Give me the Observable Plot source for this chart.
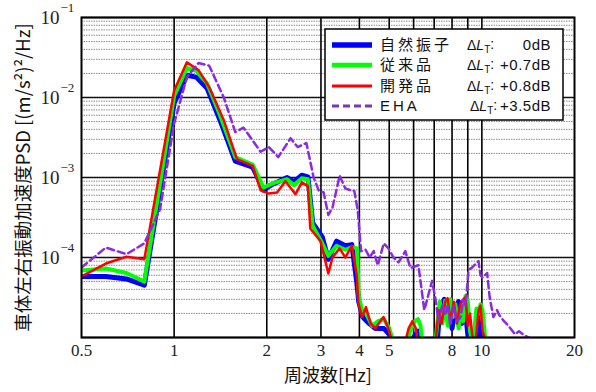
<!DOCTYPE html>
<html>
<head>
<meta charset="utf-8">
<script src="https://cdn.jsdelivr.net/npm/d3@7"></script>
<script src="https://cdn.jsdelivr.net/npm/@observablehq/plot@0.6"></script>
<style>
  html, body { margin: 0; padding: 0; background: #fff; }
  #chart { width: 596px; height: 392px; }
</style>
</head>
<body>
<div id="chart"></div>
<script>
// ---- data ----
const seriesNames = ["自然振子", "従来品", "開発品", "EHA"];
const deltaLT = ["0dB", "+0.7dB", "+0.8dB", "+3.5dB"];

const blueF = [0.5, 0.6, 0.7, 0.8, 1.0, 1.1, 1.18, 1.28, 1.41, 1.58, 1.8, 1.95, 2.1, 2.33, 2.45, 2.6, 2.72, 2.82, 3.03, 3.17, 3.37, 3.6, 3.78, 3.92,
  3.98, 4.1, 4.3, 4.5, 4.8, 5.0, 5.2, 5.8, 6.0, 6.2, 6.4, 7.1, 7.25, 7.4, 7.55, 7.7, 7.85, 8.0, 8.2, 8.4, 8.6, 8.8, 9.0, 9.2, 9.5, 9.7, 9.9, 10.1];
const blueV = [5.8e-5, 5.8e-5, 5.4e-5, 4.5e-5, 8.5e-3, 1.9e-2, 1.8e-2, 1.3e-2, 5.2e-3, 1.6e-3, 1.35e-3, 7.0e-4, 8.3e-4, 1.0e-3, 8.8e-4, 1.07e-3, 1.02e-3, 2.7e-4, 1.8e-4, 9.5e-5, 1.6e-4, 1.4e-4, 1.45e-4, 5e-5,
  2.8e-5, 1.8e-5, 1.5e-5, 1.3e-5, 1.3e-5, 1.1e-5, 7e-6, 6e-6, 1.0e-5, 1.2e-5, 6e-6, 6e-6, 1.6e-5, 2.4e-5, 3.0e-5, 2.0e-5, 2.7e-5, 1.3e-5, 2.4e-5, 2.8e-5, 1.5e-5, 2.6e-5, 1.1e-5, 7e-6, 1.0e-5, 1.8e-5, 1.0e-5, 6e-6];

const greenF = [0.5, 0.6, 0.7, 0.8, 1.0, 1.1, 1.18, 1.28, 1.41, 1.58, 1.8, 1.95, 2.1, 2.33, 2.45, 2.6, 2.72, 2.82, 3.03, 3.17, 3.37, 3.6, 3.78, 3.93,
  3.98, 4.08, 4.2, 4.4, 4.6, 4.8, 5.0, 5.2, 5.6, 5.85, 6.05, 6.2, 6.32, 6.45, 7.0, 7.15, 7.3, 7.45, 7.6, 7.75, 7.9, 8.05, 8.2, 8.4, 8.55, 8.7, 8.85, 9.0, 9.15, 9.35, 9.6, 9.75, 9.9, 10.05, 10.3, 10.5];
const greenV = [6.9e-5, 7.3e-5, 6.4e-5, 5.0e-5, 1.05e-2, 2.35e-2, 2.15e-2, 1.5e-2, 6.0e-3, 1.8e-3, 1.45e-3, 7.5e-4, 8.5e-4, 9.5e-4, 8.0e-4, 9.8e-4, 9.5e-4, 2.5e-4, 1.5e-4, 1.05e-4, 1.4e-4, 1.25e-4, 1.35e-4, 1.3e-4,
  3.3e-5, 2.2e-5, 2.0e-5, 1.4e-5, 1.6e-5, 1.7e-5, 1.3e-5, 8e-6, 6e-6, 1.2e-5, 1.6e-5, 1.7e-5, 1.4e-5, 6e-6, 6e-6, 1.4e-5, 2.8e-5, 1.5e-5, 2.9e-5, 1.4e-5, 3.0e-5, 1.8e-5, 2.6e-5, 1.3e-5, 2.4e-5, 1.6e-5, 3.3e-5, 2.8e-5, 1.2e-5, 8e-6, 2.3e-5, 2.0e-5, 2.6e-5, 2.2e-5, 8e-6, 5e-6];

const redF = [0.5, 0.6, 0.7, 0.8, 1.0, 1.1, 1.2, 1.3, 1.45, 1.6, 1.8, 1.91, 2.03, 2.16, 2.3, 2.48, 2.6, 2.72, 2.77, 2.99, 3.17, 3.27, 3.45, 3.6, 3.78, 3.92,
  3.97, 4.08, 4.2, 4.35, 4.5, 4.79, 4.97, 5.1, 5.3, 5.6, 5.78, 5.95, 6.1, 6.25, 6.6, 7.0, 7.1, 7.23, 7.4, 7.6, 7.74, 7.9, 8.1, 8.3, 8.5, 8.7, 8.85, 9.0, 9.15, 9.3, 9.5, 9.75, 9.9, 10.05, 10.3, 10.5];
const redV = [5.8e-5, 8.4e-5, 1.02e-4, 9.5e-5, 1.22e-2, 2.75e-2, 2.2e-2, 1.35e-2, 5.2e-3, 1.7e-3, 1.4e-3, 6.9e-4, 6.3e-4, 6.5e-4, 9.0e-4, 6.2e-4, 8.7e-4, 7.8e-4, 2.3e-4, 1.6e-4, 6.3e-5, 1.0e-4, 1.3e-4, 1.0e-4, 1.4e-4, 6e-5,
  2.7e-5, 1.8e-5, 2.4e-5, 1.5e-5, 1.3e-5, 1.8e-5, 1.3e-5, 9e-6, 6e-6, 8e-6, 1.3e-5, 1.6e-5, 1.3e-5, 7e-6, 5e-6, 7e-6, 1.0e-5, 2.2e-5, 1.5e-5, 2.8e-5, 3.1e-5, 1.6e-5, 2.8e-5, 1.5e-5, 2.6e-5, 3.0e-5, 3.2e-5, 1.4e-5, 2.0e-5, 1.1e-5, 7e-6, 2.2e-5, 2.5e-5, 1.2e-5, 9e-6, 5e-6];

const purpleF = [0.5, 0.6, 0.7, 0.8, 0.9, 1.0, 1.1, 1.2, 1.3, 1.45, 1.58, 1.68, 1.91, 2.03, 2.18, 2.39, 2.52, 2.69, 2.84, 2.95, 3.06, 3.17, 3.27, 3.45, 3.6, 3.75, 3.85, 3.95,
  4.05, 4.19, 4.32, 4.45, 4.59, 4.8, 4.97, 5.16, 5.36, 5.64, 5.86, 6.22, 6.5, 6.89, 7.07, 7.23, 7.45, 7.6, 7.74, 7.9, 8.09, 8.3, 8.53, 8.7, 8.85, 9.05, 9.3, 9.6, 9.75, 9.9, 10.05, 10.4, 10.6, 10.9, 11.2, 11.4, 11.8, 12.2, 12.8, 13.2, 13.8, 14.2];
const purpleV = [7.5e-5, 1.33e-4, 1.1e-4, 1.5e-4, 4.0e-4, 4.7e-3, 1.8e-2, 2.7e-2, 2.5e-2, 1.0e-2, 3.7e-3, 4.2e-3, 2.1e-3, 2.4e-3, 1.8e-3, 3.1e-3, 2.4e-3, 2.7e-3, 1.0e-3, 6.9e-4, 6.5e-4, 3.4e-4, 4.2e-4, 1.05e-3, 7.3e-4, 6.9e-4, 6.8e-4, 3.9e-4,
  1.2e-4, 1.25e-4, 1.0e-4, 1.2e-4, 8e-5, 1.5e-4, 1.3e-4, 1.0e-4, 8.7e-5, 1.2e-4, 7.4e-5, 8e-5, 2.2e-5, 5.1e-5, 3.0e-5, 1.6e-5, 2.6e-5, 1.9e-5, 2.6e-5, 1.4e-5, 2.5e-5, 1.6e-5, 1.8e-5, 2.9e-5, 2.5e-5, 7e-5, 7.5e-5, 8.5e-5, 9e-5, 6e-5, 5.6e-5, 6.4e-5, 3.2e-5, 1.8e-5, 2.2e-5, 1.9e-5, 1.6e-5, 1.4e-5, 1.1e-5, 1.2e-5, 1.05e-5, 1.0e-5];

const xTicks = [0.5, 1, 2, 3, 4, 5, 8, 10, 20];
const xTickLabels = ["0.5", "1", "2", "3", "4", "5", "8", "10", "20"];
const yTicks = [1e-1, 1e-2, 1e-3, 1e-4];
const yTickExp = ["\u22121", "\u22122", "\u22123", "\u22124"];
const xGrid = [1, 2, 3, 4, 5, 6, 7, 8, 9, 10];
const yMajor = [1e-5, 1e-4, 1e-3, 1e-2, 1e-1];
const yMinor = [-5, -4, -3, -2].flatMap(e => [2,3,4,5,6,7,8,9].map(k => k * Math.pow(10, e)));

// ---- build tables ----
const toRows = (F, V) => F.map((f, i) => ({f, v: V[i]}));
const blue = toRows(blueF, blueV);
const green = toRows(greenF, greenV);
const red = toRows(redF, redV);
const purple = toRows(purpleF, purpleV);

const colors = ["#0000ff", "#00ff00", "#ff0000", "#8a2be2"];
const widths = [5, 4, 2.5, 2.5];
const serif = "'Liberation Serif', 'DejaVu Serif', serif";
const cjk = "'Noto Sans CJK JP', 'Noto Sans', sans-serif";
const sans = "'Liberation Sans', 'DejaVu Sans', sans-serif";

const chart = Plot.plot({
  width: 596,
  height: 392,
  marginLeft: 81,
  marginRight: 22,
  marginTop: 17,
  marginBottom: 55,
  style: {background: "#fff", fontFamily: serif, fontSize: "15px", overflow: "visible"},
  x: {type: "log", domain: [0.5, 20], axis: null},
  y: {type: "log", domain: [1e-5, 1e-1], axis: null},
  marks: [
    Plot.ruleY(yMinor, {stroke: "#8c8c8c", strokeWidth: 1, strokeDasharray: "1.5,1"}),
    Plot.ruleY(yMajor, {stroke: "#111", strokeWidth: 1.3}),
    Plot.ruleX(xGrid, {stroke: "#000", strokeWidth: 1.6}),
    Plot.line(blue, {x: "f", y: "v", stroke: colors[0], strokeWidth: widths[0], clip: true}),
    Plot.line(green, {x: "f", y: "v", stroke: colors[1], strokeWidth: widths[1], clip: true}),
    Plot.line(red, {x: "f", y: "v", stroke: colors[2], strokeWidth: widths[2], clip: true}),
    Plot.line(purple, {x: "f", y: "v", stroke: colors[3], strokeWidth: widths[3], strokeDasharray: "7,4", clip: true}),
    Plot.frame({stroke: "#000", strokeWidth: 2}),
    Plot.text(xTicks, {x: d => d, frameAnchor: "bottom", dy: 18, textAnchor: "middle", text: (d, i) => xTickLabels[i],
      fontFamily: serif, fontSize: 17, fill: "#222", style: "letter-spacing:3px"}),
    Plot.text(yTicks, {y: d => d, frameAnchor: "left", dx: -22, textAnchor: "end", text: () => "10",
      fontFamily: serif, fontSize: 19, fill: "#222"}),
    Plot.text(yTicks, {y: d => d, frameAnchor: "left", dx: -21, dy: -10, textAnchor: "start", text: (d, i) => yTickExp[i],
      fontFamily: serif, fontSize: 13, fill: "#222"}),
    Plot.text(["周波数[Hz]"], {frameAnchor: "bottom", dy: 44, textAnchor: "middle", fontFamily: cjk, fontSize: 18, fill: "#111"}),
    Plot.text(["車体左右振動加速度PSD [(m/s²)²/Hz]"], {frameAnchor: "left", dx: -57, rotate: -90, textAnchor: "middle",
      fontFamily: cjk, fontSize: 18.5, fill: "#111"})
  ]
});

// ---- legend (drawn into the same svg) ----
const svg = d3.select(chart);
const lg = svg.append("g").attr("class", "legend").attr("text-anchor", "start");
lg.append("rect").attr("x", 325).attr("y", 29).attr("width", 238).attr("height", 91)
  .attr("fill", "#fff").attr("stroke", "#000").attr("stroke-width", 1.5);
const rowY = [45, 65, 86, 106];
seriesNames.forEach((name, i) => {
  const y = rowY[i];
  const ln = lg.append("line").attr("x1", 332).attr("x2", 372).attr("y1", y).attr("y2", y)
    .attr("stroke", colors[i]).attr("stroke-width", widths[i] + 0.5);
  if (i === 3) ln.attr("stroke-dasharray", "7,4").attr("stroke", "#7a35b8");
  lg.append("text").attr("x", 380).attr("y", y).attr("dy", "0.36em").attr("text-anchor", "start")
    .attr("font-family", i === 3 ? sans : cjk)
    .attr("font-size", 15).attr("letter-spacing", "3px").attr("fill", "#111").text(name);
  const t = lg.append("text").attr("x", i === 3 ? 470 : 467).attr("y", y).attr("dy", "0.36em").attr("text-anchor", "start")
    .attr("font-family", sans).attr("font-size", 14).attr("fill", "#111");
  t.append("tspan").text("Δ");
  t.append("tspan").attr("font-style", "italic").text("L");
  t.append("tspan").attr("font-size", 10).attr("dy", "0.3em").text("T");
  t.append("tspan").attr("dy", "-0.3em").text(":");
  lg.append("text").attr("x", 551).attr("y", y).attr("dy", "0.36em").attr("text-anchor", "end")
    .attr("font-family", sans).attr("font-size", 15).attr("letter-spacing", "0.5px")
    .attr("fill", "#111").text(deltaLT[i]);
});

document.getElementById("chart").appendChild(chart);
</script>
</body>
</html>
